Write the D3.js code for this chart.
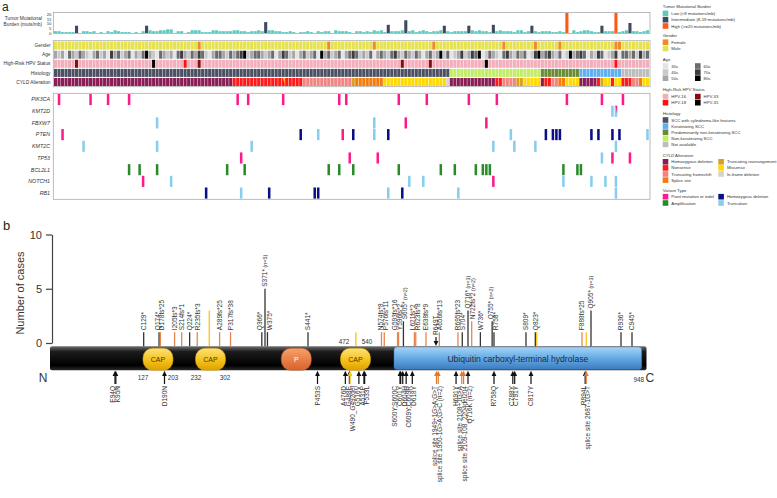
<!DOCTYPE html>
<html><head><meta charset="utf-8">
<script src="https://cdn.jsdelivr.net/npm/d3@7"></script>
<style>
body{margin:0;background:#fff;}
svg{display:block;font-family:"Liberation Sans",Arial,sans-serif;}
</style>
</head><body>
<svg id="chart" width="777" height="498"></svg>
<script>
// ================= DATA =================
const nCols = 170;
// Tumor mutational burden (muts/mb) per sample
const tmb = [
 2,2,1,1,1,1,8,0,2,2, 1,2,0,1,0,2,1,3,2,1, 1,1,0,1,0,2,8,3,2,2, 3,3,4,4,0,2,2,0,1,3,
 3,3,1,1,1,3,3,2,2,2, 2,3,3,2,2,1,2,2,3,2, 12,3,3,2,2,1,1,2,1,0, 1,1,2,1,0,2,1,2,2,0,
 3,2,2,2,1,0,2,2,1,2, 1,3,2,3,1,9,2,2,2,3, 14,2,3,1,2,3,2,1,2,2, 3,8,2,1,2,2,2,2,8,3,
 2,3,2,2,1,9,2,3,2,2, 2,1,3,3,1,2,8,2,1,2, 2,2,1,1,2,1,22,0,3,1, 2,3,3,2,1,1,8,2,2,2,
 22,1,2,3,11,2,2,1,2,3];
const tmbTicks = [0,5,10,15,20];
const tmbCategories = ["Low (<8 mutations/mb)","Intermediate (8-19 mutations/mb)","High (>=20 mutations/mb)"];
const genderCategories = ["Female","Male"];
const femaleCols = [41,78,91,108,128,137,144,160,161];
const ageGroups = ["30s","40s","50s","60s","70s","80s"];
const ages = [
 2,1,2,0,3,2,1,3,2,1,0,2,3,1,2,0,4,2,3,1, 2,3,0,2,1,3,5,2,1,0,3,2,1,2,0,3,4,2,1,3,
 2,4,3,1,0,2,3,3,2,1,3,2,3,4,5,1,2,3,3,2, 1,2,3,0,2,4,3,1,2,0,2,3,1,2,3,0,5,2,3,1,
 2,3,0,2,3,4,3,1,2,1,3,0,2,3,2,1,3,4,2,1, 3,2,1,3,2,0,2,3,1,2,5,1,3,0,1,2,4,1,2,4,
 3,5,0,1,3,2,1,0,3,4,2,1,3,2,3,0,1,4,5,2, 3,4,2,1,3,0,1,5,2,3,4,3,0,2,1,4,3,0,1,2,
 4,0,3,3,2,3,1,4,2,3];
const hpvTypes = ["HPV-16","HPV-18","HPV-33","HPV-35"];
const hpvNon16 = [[6,"HPV-33"],[28,"HPV-35"],[37,"HPV-18"],[41,"HPV-33"],[99,"HPV-33"],[107,"HPV-33"],[123,"HPV-35"],[160,"HPV-18"]];
const histologyTypes = ["SCC with cylindroma-like features","Keratinizing SCC","Predominantly non-keratinizing SCC","Non-keratinizing SCC","Not available"];
const histologyRuns = [["SCC with cylindroma-like features",113],["Non-keratinizing SCC",26],["Predominantly non-keratinizing SCC",11],["Keratinizing SCC",12],["Not available",8]];
const cyldTypes = ["Homozygous deletion","Nonsense","Truncating frameshift","Splice site","Truncating rearrangement","Missense","In-frame deletion"];
const cyldRuns = [
 ["Homozygous deletion",51],["Nonsense",20],["Truncating frameshift",14],["Truncating rearrangement",1],["Splice site",8],["Missense",18],["In-frame deletion",1],
 ["Homozygous deletion",13],["Nonsense",2],["Truncating frameshift",4],["Truncating rearrangement",2],["Missense",5],
 ["Homozygous deletion",1],["Nonsense",2],["Truncating frameshift",2],["Splice site",2],["Missense",4],
 ["Homozygous deletion",5],["Nonsense",1],["Truncating rearrangement",1],["Missense",2],["Nonsense",1],["Missense",2],
 ["Nonsense",3],["Truncating frameshift",2],["Splice site",1],["Missense",2]];
const cyldSecond = [[65,"Missense"]];
const genes = ["PIK3CA","KMT2D","FBXW7","PTEN","KMT2C","TP53","BCL2L1","NOTCH1","RB1"];
const variantTypes = ["Point mutation or indel","Amplification","Homozygous deletion","Truncation"];
const truncations = [["KMT2D",[159,160]],["FBXW7",[29,91]],["PTEN",[75,91,130,169]],["KMT2C",[8,29,56,125,131,137,160]],["TP53",[156]],["NOTCH1",[33,101,105,145,153,157,160]],["RB1",[53,95,115,160]]];
const homDeletions = [["PTEN",[70,85,95,140,142,143,144,153,155,159,161]],["RB1",[43,61,74,75,99]]];
const amplifications = [["BCL2L1",[21,24,29,49,54,78,81,85,98,110,114,120,122,123,124,145,149,150]]];
const pointMutations = [["PIK3CA",[1,10,15,21,52,55,65,81,83,98,106,118,126,146,156,162]],["KMT2D",[160]],["FBXW7",[100,123]],["PTEN",[2,82]],["TP53",[53,84,92,159,164]],["NOTCH1",[25,125]]];

// Panel b: CYLD protein
const proteinLength = 948;
const domains = [["CAP",127,203],["CAP",232,302],["P",399,444],["CAP",472,540],["Ubiquitin carboxyl-terminal hydrolase",583,947]];
const boundaryLabelsBelow = [127,203,232,302];
const boundaryLabelsAbove = [472,540];
const aboveMutations = [
 [129,"C129*",1,"nonsense"],[174,"Q174*",1,"nonsense"],[178,"D178fs*25",1,"frameshift"],[205,"I205fs*3",1,"frameshift"],
 [214,"S214fs*1",1,"frameshift"],[224,"Q224*",1,"nonsense"],[235,"R235fs*3",1,"frameshift"],[264,"",3,"rearrangement"],
 [289,"A289fs*25",1,"frameshift"],[317,"P317fs*38",1,"frameshift"],[366,"Q366*",1,"nonsense"],[371,"S371*",5,"nonsense"],
 [375,"W375*",1,"nonsense"],[441,"S441*",1,"nonsense"],[507,"",1,"rearrangement"],[574,"N574fs*8",1,"frameshift"],
 [576,"P576fs*11",1,"frameshift"],[593,"G593fs*16",1,"frameshift"],[596,"Y596fs*2",1,"frameshift"],[605,"S605*",2,"nonsense"],
 [621,"L621fs*2",1,"frameshift"],[623,"R623fs*8",1,"frameshift"],[638,"E638fs*9",1,"frameshift"],[656,"A656fs*13",1,"frameshift"],
 [695,"R695fs*23",1,"frameshift"],[704,"S704*",1,"nonsense"],[716,"Q716*",3,"nonsense"],[722,"N722fs*2",2,"frameshift"],
 [736,"W736*",1,"nonsense"],[755,"Q755*",2,"nonsense"],[758,"R758*",1,"nonsense"],[809,"S809*",1,"nonsense"],
 [823,"Q823*",1,"nonsense"],[825,"",1,"rearrangement"],[888,"F888fs*25",1,"frameshift"],[896,"",1,"rearrangement"],
 [905,"Q905*",3,"nonsense"],[936,"R936*",1,"nonsense"],[945,"C945*",1,"nonsense"]];
const aboveMissense = [[649,"R649T"]];
const belowMutations = [
 [94,"E94Q","missense"],[95,"K95N","missense"],[190,"D190N","missense"],[453,"P453S","missense"],
 [476,"A476D","missense"],[488,"G488E","missense"],[490,"W490_G492del","inframe"],[516,"G516V","missense"],
 [531,"A531P","missense"],[533,"F533L","missense"],[600,"S600Y;S600C","missense"],[601,"C601Y","missense"],
 [604,"D604H","missense"],[609,"C609Y;C609R","missense"],[618,"D618Y","missense"],
 [650,"splice site 1949+1G>A;G>T","splice"],[650,"splice site 1950-1G>A;G>C (n=2)","splice"],
 [691,"H691Y","missense"],[703,"splice site 2108+1G>A","splice"],[703,"splice site 2109-108_2204del204","splice"],
 [716,"Q716K (n=2)","missense"],[758,"R758Q","missense"],[788,"C788Y","missense"],[791,"C791Y","missense"],
 [817,"C817Y","missense"],[894,"R894L","missense"],[896,"splice site 2687-1G>T","splice"]];
const yTicksB = [0,5,10];

// ================= STYLES =================
const tmbColors = ["#5cc9c0","#3e4a5d","#ff5a12"];
const genderColors = {"Female":"#f08a24","Male":"#e6e24e"};
const ageColors = ["#e4e4e4","#c9c9c9","#a6a6a6","#6c6c6c","#3e3e3e","#000000"];
const hpvColors = {"HPV-16":"#f4aebb","HPV-18":"#ff1010","HPV-33":"#8b0a0a","HPV-35":"#000000"};
const histColors = {"SCC with cylindroma-like features":"#4b5062","Keratinizing SCC":"#5fb0ef","Predominantly non-keratinizing SCC":"#6b8c36","Non-keratinizing SCC":"#c3ec68","Not available":"#bdbdbd"};
const cyldColors = {"Homozygous deletion":"#8a1d55","Nonsense":"#ff1a1a","Truncating frameshift":"#f28482","Splice site":"#f57b0a","Truncating rearrangement":"#d7a221","Missense":"#ffd900","In-frame deletion":"#d3d3d3"};
const variantColors = {"Point mutation or indel":"#ff1a8c","Amplification":"#2a8a2a","Homozygous deletion":"#0a0f85","Truncation":"#89cdee"};
const stemColors = {"nonsense":"#333333","frameshift":"#e58550","rearrangement":"#ffc20e"};
const arrowColors = {"missense":"#111111","splice":"#e2782e","inframe":"#ffc20e"};

const svg = d3.select("#chart");
const defs = svg.append("defs");

svg.append("text").attr("x",2).attr("y",10.5).text("a").style("font-size","12px").attr("fill","#222");
svg.append("text").attr("x",3).attr("y",230).text("b").style("font-size","13px").attr("fill","#222");

// ================= PANEL A =================
const x0 = 54, x1 = 649;
const xCol = d3.scaleBand().domain(d3.range(nCols)).range([x0,x1]).paddingInner(0.12);
const bw = xCol.bandwidth();
const boxStroke = "#ababab";

// TMB track
const yT = d3.scaleLinear().domain([0,20]).range([33,14.8]);
svg.append("rect").attr("x",53.5).attr("y",12.5).attr("width",596.5).attr("height",21).attr("fill","none").attr("stroke",boxStroke).attr("stroke-width",0.8);
const tmbCat = v => v >= 20 ? 2 : (v >= 8 ? 1 : 0);
svg.append("g").selectAll("rect").data(tmb).join("rect")
  .attr("x",(d,i)=>xCol(i)).attr("width",bw)
  .attr("y",d=>Math.max(yT(d),13)).attr("height",d=>yT(0)-Math.max(yT(d),13))
  .attr("fill",d=>tmbColors[tmbCat(d)]);
svg.append("g").selectAll("text").data(tmbTicks).join("text")
  .attr("x",51.5).attr("y",d=>yT(d)).attr("dy","0.35em").attr("text-anchor","end")
  .style("font-size","4.3px").attr("fill","#333").text(d=>d);
svg.append("text").attr("x",42).attr("y",20).attr("text-anchor","end").style("font-size","4.8px").attr("fill","#333").text("Tumor Mutational");
svg.append("text").attr("x",42).attr("y",26).attr("text-anchor","end").style("font-size","4.8px").attr("fill","#333").text("Burden (muts/mb)");

// clinical tracks
const clinRows = ["Gender","Age","High-Risk HPV Status","Histology","CYLD Alteration"];
const yClin = d3.scaleBand().domain(clinRows).range([41.6,86]).paddingInner(0.12);
svg.append("rect").attr("x",53.3).attr("y",40.7).attr("width",596.7).attr("height",46).attr("fill","none").attr("stroke",boxStroke).attr("stroke-width",0.8);

function expandRuns(runs){ const out=[]; runs.forEach(([t,n])=>{for(let k=0;k<n;k++) out.push(t);}); return out; }
const genderArr = d3.range(nCols).map(i => femaleCols.includes(i) ? "Female" : "Male");
const hpvMap = new Map(hpvNon16);
const hpvArr = d3.range(nCols).map(i => hpvMap.get(i) || "HPV-16");
const histArr = expandRuns(histologyRuns);
const cyldArr = expandRuns(cyldRuns);

function drawRow(row, arr, colorFn){
  svg.append("g").selectAll("rect").data(arr).join("rect")
    .attr("x",(d,i)=>xCol(i)).attr("width",bw)
    .attr("y",yClin(row)).attr("height",yClin.bandwidth())
    .attr("fill",colorFn);
}
drawRow("Gender", genderArr, d=>genderColors[d]);
drawRow("Age", ages, d=>ageColors[d]);
drawRow("High-Risk HPV Status", hpvArr, d=>hpvColors[d]);
drawRow("Histology", histArr, d=>histColors[d]);
drawRow("CYLD Alteration", cyldArr, d=>cyldColors[d]);
cyldSecond.forEach(([c,t])=>{
  const xa=xCol(c), ya=yClin("CYLD Alteration"), h=yClin.bandwidth();
  svg.append("path").attr("d",`M${xa+bw*0.35},${ya}L${xa+bw},${ya}L${xa+bw},${ya+h*0.7}Z`).attr("fill",cyldColors[t]);
});
clinRows.forEach(r=>{
  const t = svg.append("text").attr("x",50.5).attr("y",yClin(r)+yClin.bandwidth()/2).attr("dy","0.35em")
    .attr("text-anchor","end").style("font-size","4.8px").attr("fill","#333");
  if(r==="CYLD Alteration"){ t.append("tspan").style("font-style","italic").text("CYLD"); t.append("tspan").text(" Alteration"); }
  else t.text(r);
});

// gene tracks
const yGene = d3.scaleBand().domain(genes).range([94,198.6]).paddingInner(0.05);
svg.append("rect").attr("x",53.3).attr("y",93.3).attr("width",596.7).attr("height",106).attr("fill","none").attr("stroke",boxStroke).attr("stroke-width",0.8);
const cellEvents = new Map();
function addEvents(list,type){ list.forEach(([g,cols])=>cols.forEach(c=>{const k=g+"|"+c; if(!cellEvents.has(k)) cellEvents.set(k,[]); cellEvents.get(k).push(type);})); }
addEvents(truncations,"Truncation");
addEvents(homDeletions,"Homozygous deletion");
addEvents(amplifications,"Amplification");
addEvents(pointMutations,"Point mutation or indel");
const gw = bw*0.82;
const gGenes = svg.append("g");
cellEvents.forEach((types,k)=>{
  const [g,cs]=k.split("|"); const c=+cs;
  const xa = xCol(c)+(bw-gw)/2, ya=yGene(g), h=yGene.bandwidth();
  gGenes.append("rect").attr("x",xa).attr("y",ya).attr("width",gw).attr("height",h).attr("fill",variantColors[types[0]]);
  if(types.length>1){
    gGenes.append("path").attr("d",`M${xa+gw*0.3},${ya}L${xa+gw},${ya}L${xa+gw},${ya+h*0.75}Z`).attr("fill",variantColors[types[1]]);
  }
});
genes.forEach(g=>{
  svg.append("text").attr("x",50).attr("y",yGene(g)+yGene.bandwidth()/2).attr("dy","0.35em")
    .attr("text-anchor","end").style("font-size","5.3px").style("font-style","italic").attr("fill","#333").text(g);
});

// legend
const lg = svg.append("g").style("font-size","4.3px").attr("fill","#333");
function lTitle(x,y,parts){ const t=lg.append("text").attr("x",x).attr("y",y).attr("dy","0.35em"); parts.forEach(([s,it])=>t.append("tspan").style("font-style",it?"italic":"normal").text(s)); }
function lItem(x,y,color,label){ lg.append("rect").attr("x",x).attr("y",y-2.8).attr("width",5.6).attr("height",5.6).attr("fill",color); lg.append("text").attr("x",x+8.6).attr("y",y).attr("dy","0.35em").text(label); }
const LX=662.7;
lTitle(LX,6.8,[["Tumor Mutational Burden",false]]);
tmbCategories.forEach((c,i)=>lItem(LX,13.4+i*6.3,tmbColors[i],c));
lTitle(LX,35.3,[["Gender",false]]);
genderCategories.forEach((c,i)=>lItem(LX,42.2+i*6.3,genderColors[c],c));
lTitle(LX,59,[["Age",false]]);
ageGroups.forEach((c,i)=>lItem(i<3?LX:695,66+(i%3)*6.1,ageColors[i],c));
lTitle(LX,89.6,[["High-Risk HPV Status",false]]);
hpvTypes.forEach((c,i)=>lItem(i<2?LX:695,96.6+(i%2)*6.1,hpvColors[c],c));
lTitle(LX,113.4,[["Histology",false]]);
histologyTypes.forEach((c,i)=>lItem(LX,120+i*6.1,histColors[c],c));
lTitle(LX,155.3,[["CYLD",true],[" Alteration",false]]);
cyldTypes.forEach((c,i)=>{ const col = i<4?0:1; const r = i<4?i:i-4; lItem(col?718.3:LX,161.8+r*6.1,cyldColors[c],c); });
lTitle(LX,190,[["Variant Type",false]]);
variantTypes.forEach((c,i)=>lItem(i<2?LX:718.3,196.7+(i%2)*6.3,variantColors[c],c));

// ================= PANEL B =================
const aaKnots = [1,94,127,190,203,232,302,317,371,441,453,472,540,574,583,600,638,649,716,758,817,888,905,936,945,948];
const xKnots  = [50,115,143,164.5,173,196,225,230.5,265,308,317.5,344,367,381.5,394,400,426,436,468,494,531,582,591,621,632,646.5];
const xP = d3.scaleLinear().domain(aaKnots).range(xKnots);
const yB = d3.scaleLinear().domain([0,10]).range([343,234.5]);
const barTop = 346.3, barBot = 370.2;

function grad(id, stops){ const g=defs.append("linearGradient").attr("id",id).attr("x1",0).attr("y1",0).attr("x2",0).attr("y2",1); stops.forEach(([o,c])=>g.append("stop").attr("offset",o).attr("stop-color",c)); }
grad("gBar",[["0%","#707070"],["22%","#1c1c1c"],["80%","#000"],["100%","#2a2a2a"]]);
grad("gCap",[["0%","#fde27a"],["55%","#f5c21a"],["100%","#e0a000"]]);
grad("gP",[["0%","#f6a06a"],["100%","#d9622a"]]);
grad("gUch",[["0%","#a9d4f4"],["45%","#6aaee6"],["100%","#3a7cc0"]]);

const axB = svg.append("g").attr("transform","translate(52,0)")
  .call(d3.axisLeft(yB).tickValues(yTicksB).tickSize(6).tickSizeOuter(0).tickPadding(4));
axB.select(".domain").attr("stroke","#444").attr("stroke-width",1.2);
axB.selectAll(".tick line").attr("stroke","#444").attr("stroke-width",1.2);
axB.selectAll(".tick text").style("font-size","11px").attr("fill","#333").style("font-family","'Liberation Sans',Arial,sans-serif");
svg.append("text").attr("transform","translate(24,293) rotate(-90)").attr("text-anchor","middle")
  .style("font-size","11px").attr("fill","#333").text("Number of cases");

svg.append("rect").attr("x",xP(1)).attr("y",barTop).attr("width",xP(proteinLength)-xP(1)).attr("height",barBot-barTop)
  .attr("rx",2).attr("fill","url(#gBar)");
domains.forEach(([name,s,e])=>{
  const xa=xP(s), xb=xP(e);
  if(name==="CAP" || name==="P"){
    const w=Math.max(xb-xa,30), cx=(xa+xb)/2;
    svg.append("rect").attr("x",cx-w/2).attr("y",348.2).attr("width",w).attr("height",22).attr("rx",9.5)
      .attr("fill",name==="CAP"?"url(#gCap)":"url(#gP)").attr("stroke",name==="CAP"?"#d49b00":"#c8561f").attr("stroke-width",0.5);
    svg.append("text").attr("x",cx).attr("y",359.3).attr("dy","0.35em").attr("text-anchor","middle")
      .style("font-size","7px").attr("fill",name==="CAP"?"#4a3a00":"#fff").text(name);
  } else {
    svg.append("rect").attr("x",xa).attr("y",347).attr("width",xb-xa).attr("height",22.4).attr("rx",3)
      .attr("fill","url(#gUch)").attr("stroke","#3a78b6").attr("stroke-width",0.5);
    svg.append("text").attr("x",(xa+xb)/2).attr("y",359).attr("dy","0.35em").attr("text-anchor","middle")
      .style("font-size","8.6px").attr("fill","#1b2a4e").text(name);
  }
});
boundaryLabelsBelow.forEach(a=>svg.append("text").attr("x",xP(a)).attr("y",379.5).attr("text-anchor","middle").style("font-size","6.3px").attr("fill","#333").text(a));
boundaryLabelsAbove.forEach(a=>svg.append("text").attr("x",xP(a)).attr("y",343.5).attr("text-anchor","middle").style("font-size","6.3px").attr("fill","#333").text(a));
svg.append("text").attr("x",43).attr("y",381.5).attr("text-anchor","middle").style("font-size","12px").attr("fill","#333").text("N");
svg.append("text").attr("x",644).attr("y",381.5).attr("text-anchor","end").style("font-size","6.3px").attr("fill","#333").text(proteinLength);
svg.append("text").attr("x",645.5).attr("y",381.5).style("font-size","12px").attr("fill","#333").text("C");

function dodge(xs,gap){
  const clusters=[];
  xs.forEach((x,i)=>{
    clusters.push({m:[i],sum:x});
    while(clusters.length>1){
      const b=clusters[clusters.length-1], a=clusters[clusters.length-2];
      const aEnd=a.sum/a.m.length+(a.m.length-1)*gap/2, bStart=b.sum/b.m.length-(b.m.length-1)*gap/2;
      if(bStart-aEnd<gap){ a.m.push(...b.m); a.sum+=b.sum; clusters.pop(); } else break;
    }
  });
  const out=[]; clusters.forEach(c=>{const mean=c.sum/c.m.length; c.m.forEach((idx,k)=>out[idx]=mean-(c.m.length-1)*gap/2+k*gap);});
  return out;
}

const stemG = svg.append("g");
aboveMutations.forEach(([aa,lab,n,kind])=>{
  stemG.append("line").attr("x1",xP(aa)).attr("x2",xP(aa)).attr("y1",barTop).attr("y2",yB(n))
    .attr("stroke",stemColors[kind]).attr("stroke-width",1.3);
});
const labelled = aboveMutations.filter(d=>d[1]!=="");
const topPos = dodge(labelled.map(d=>xP(d[0])),4.8);
labelled.forEach(([aa,lab,n],i)=>{
  const t=svg.append("text").attr("transform",`translate(${topPos[i]},${yB(n)-2}) rotate(-90)`).attr("dy","0.35em")
    .style("font-size","6.5px").attr("fill","#333").text(lab);
  if(n>1) t.append("tspan").style("font-size","5.4px").text(` (n=${n})`);
});
aboveMissense.forEach(([aa,lab])=>{
  const x=xP(aa);
  svg.append("line").attr("x1",x).attr("x2",x).attr("y1",337).attr("y2",342).attr("stroke","#111").attr("stroke-width",1.2);
  svg.append("path").attr("d",`M${x-2.4},${341}L${x+2.4},${341}L${x},${346}Z`).attr("fill","#111");
  svg.append("text").attr("transform",`translate(${x},${335}) rotate(-90)`).attr("dy","0.35em").style("font-size","6.5px").attr("fill","#333").text(lab);
});
const seen = {};
const arrowXs = belowMutations.map(([aa])=>{ seen[aa]=(seen[aa]||0)+1; return xP(aa)+(seen[aa]-1)*1.8; });
belowMutations.forEach(([aa,lab,kind],i)=>{
  const x=arrowXs[i];
  svg.append("line").attr("x1",x).attr("x2",x).attr("y1",384).attr("y2",375).attr("stroke",arrowColors[kind]).attr("stroke-width",1.2);
  svg.append("path").attr("d",`M${x-2.4},${376}L${x+2.4},${376}L${x},${370.8}Z`).attr("fill",arrowColors[kind]);
});
const botPos = dodge(arrowXs,4.6);
belowMutations.forEach(([aa,lab],i)=>{
  svg.append("text").attr("transform",`translate(${botPos[i]},${386}) rotate(-90)`).attr("dy","0.35em")
    .attr("text-anchor","end").style("font-size","6.5px").attr("fill","#333").text(lab);
});
</script>
</body></html>
